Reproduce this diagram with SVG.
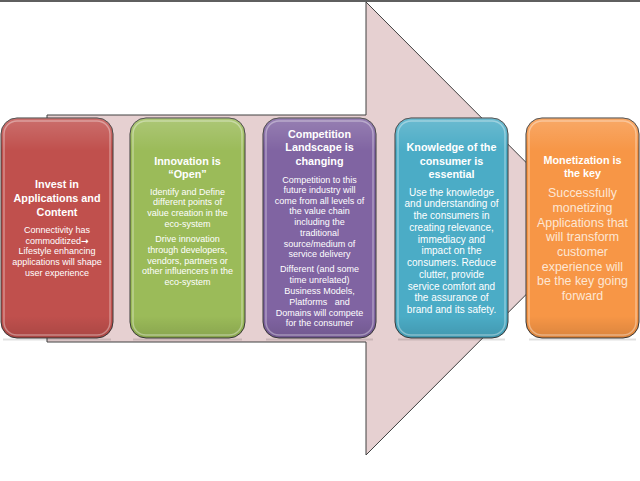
<svg xmlns="http://www.w3.org/2000/svg" width="640" height="481" viewBox="0 0 640 481">
<defs>
<style>
.box{stroke:#3a3a3a;stroke-width:1}
.rim{fill:none;stroke:#ffffff;stroke-opacity:0.35;stroke-width:1.5}
text{font-family:"Liberation Sans",Arial,sans-serif;fill:#ffffff;text-anchor:middle}
.t{font-weight:bold;font-size:10.8px}
.b{font-size:9px}
.b4{font-size:10px}
.b5{font-size:12.4px;fill:#fde6d4}
.arr{font-family:"DejaVu Sans",sans-serif;font-weight:bold;font-size:9px}
</style>
<linearGradient id="gloss" x1="0" y1="0" x2="0" y2="1">
<stop offset="0" stop-color="#ffffff" stop-opacity="0.18"/>
<stop offset="0.15" stop-color="#ffffff" stop-opacity="0"/>
<stop offset="0.9" stop-color="#000000" stop-opacity="0"/>
<stop offset="1" stop-color="#000000" stop-opacity="0.12"/>
</linearGradient>
</defs>
<rect x="0" y="0" width="640" height="481" fill="#ffffff"/>
<line x1="0" y1="1" x2="640" y2="1" stroke="#2a2a2a" stroke-width="1.6"/>
<g id="connectors">
<path d="M47,115 H366 V2 L592,228.5 L366,455 V342 H47 Z" fill="#e6d0d1" stroke="#404040" stroke-width="1"/>
</g>
<g id="node1">
<rect x="3" y="338.5" width="108" height="2" fill="#000" opacity="0.12"/>
<rect class="box" x="1" y="118" width="112" height="220" rx="16" fill="#c0504d"/>
<rect x="1" y="118" width="112" height="220" rx="16" fill="url(#gloss)"/>
<rect class="rim" x="4" y="121" width="106" height="214" rx="13"/>
<text class="t" x="57" y="188">Invest in</text>
<text class="t" x="57" y="202">Applications and</text>
<text class="t" x="57" y="215.7">Content</text>
<text class="b" x="57" y="233">Connectivity has</text>
<text class="b" x="57" y="243.7">commoditized<tspan class="arr">→</tspan></text>
<text class="b" x="57" y="254.3">Lifestyle enhancing</text>
<text class="b" x="57" y="265.3">applications will shape</text>
<text class="b" x="57" y="275.7">user experience</text>
</g>
<g id="node2">
<rect x="133" y="338.5" width="109" height="2" fill="#000" opacity="0.12"/>
<rect class="box" x="130" y="118" width="115" height="220" rx="16" fill="#9bbb59"/>
<rect x="130" y="118" width="115" height="220" rx="16" fill="url(#gloss)"/>
<rect class="rim" x="133" y="121" width="109" height="214" rx="13"/>
<text class="t" x="187.5" y="165">Innovation is</text>
<text class="t" x="187.5" y="177.7">“Open”</text>
<text class="b" x="187.5" y="195">Identify and Define</text>
<text class="b" x="187.5" y="205.3">different points of</text>
<text class="b" x="187.5" y="216.3">value creation in the</text>
<text class="b" x="187.5" y="227">eco-system</text>
<text class="b" x="187.5" y="242.3">Drive innovation</text>
<text class="b" x="187.5" y="252.7">through developers,</text>
<text class="b" x="187.5" y="263.7">vendors, partners or</text>
<text class="b" x="187.5" y="274">other influencers in the</text>
<text class="b" x="187.5" y="285.3">eco-system</text>
</g>
<g id="node3">
<rect x="266" y="338.5" width="107" height="2" fill="#000" opacity="0.12"/>
<rect class="box" x="263" y="118" width="113" height="220" rx="16" fill="#8064a2"/>
<rect x="263" y="118" width="113" height="220" rx="16" fill="url(#gloss)"/>
<rect class="rim" x="266" y="121" width="107" height="214" rx="13"/>
<text class="t" x="319.5" y="138">Competition</text>
<text class="t" x="319.5" y="151.4">Landscape is</text>
<text class="t" x="319.5" y="165.4">changing</text>
<text class="b" x="319.5" y="182.7">Competition to this</text>
<text class="b" x="319.5" y="193">future industry will</text>
<text class="b" x="319.5" y="203.7">come from all levels of</text>
<text class="b" x="319.5" y="214.3">the value chain</text>
<text class="b" x="319.5" y="225.3">including the</text>
<text class="b" x="319.5" y="235.7">traditional</text>
<text class="b" x="319.5" y="246.7">source/medium of</text>
<text class="b" x="319.5" y="257.3">service delivery</text>
<text class="b" x="319.5" y="272.3">Different (and some</text>
<text class="b" x="319.5" y="283">time unrelated)</text>
<text class="b" x="319.5" y="294">Business Models,</text>
<text class="b" x="319.5" y="304.7" style="white-space:pre">Platforms   and</text>
<text class="b" x="319.5" y="315.7">Domains will compete</text>
<text class="b" x="319.5" y="326.3">for the consumer</text>
</g>
<g id="node4">
<rect x="398" y="338.5" width="107" height="2" fill="#000" opacity="0.12"/>
<rect class="box" x="395" y="118" width="113" height="220" rx="16" fill="#4bacc6"/>
<rect x="395" y="118" width="113" height="220" rx="16" fill="url(#gloss)"/>
<rect class="rim" x="398" y="121" width="107" height="214" rx="13"/>
<text class="t" x="451.5" y="150.7">Knowledge of the</text>
<text class="t" x="451.5" y="164.7">consumer is</text>
<text class="t" x="451.5" y="177.7">essential</text>
<text class="b4" x="451.5" y="195.5">Use the knowledge</text>
<text class="b4" x="451.5" y="207.2">and understanding of</text>
<text class="b4" x="451.5" y="219.2">the consumers in</text>
<text class="b4" x="451.5" y="231.2">creating relevance,</text>
<text class="b4" x="451.5" y="242.9">immediacy and</text>
<text class="b4" x="451.5" y="254.2">impact on the</text>
<text class="b4" x="451.5" y="266.2">consumers. Reduce</text>
<text class="b4" x="451.5" y="277.9">clutter, provide</text>
<text class="b4" x="451.5" y="289.5">service comfort and</text>
<text class="b4" x="451.5" y="301.2">the assurance of</text>
<text class="b4" x="451.5" y="313.2">brand and its safety.</text>
</g>
<g id="node5">
<rect x="529" y="338.5" width="107" height="2" fill="#000" opacity="0.12"/>
<rect class="box" x="526" y="118" width="113" height="220" rx="16" fill="#f79646"/>
<rect x="526" y="118" width="113" height="220" rx="16" fill="url(#gloss)"/>
<rect class="rim" x="529" y="121" width="107" height="214" rx="13"/>
<text class="t" x="582.5" y="163.7">Monetization is</text>
<text class="t" x="582.5" y="177">the key</text>
<text class="b5" x="582.5" y="197.3">Successfully</text>
<text class="b5" x="582.5" y="212.3">monetizing</text>
<text class="b5" x="582.5" y="226.7">Applications that</text>
<text class="b5" x="582.5" y="241.3">will transform</text>
<text class="b5" x="582.5" y="256">customer</text>
<text class="b5" x="582.5" y="270.7">experience will</text>
<text class="b5" x="582.5" y="285.3">be the key going</text>
<text class="b5" x="582.5" y="299.7">forward</text>
</g>
</svg>
